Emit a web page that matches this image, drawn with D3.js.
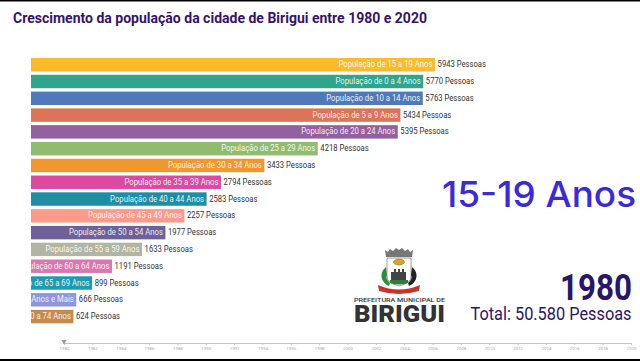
<!DOCTYPE html>
<html><head><meta charset="utf-8">
<script src="https://cdn.jsdelivr.net/npm/d3@7/dist/d3.min.js"></script>
<style>html,body{margin:0;padding:0;background:#fff;overflow:hidden}svg{display:block}text{font-family:Roboto,sans-serif}</style>
</head><body><svg id="c" width="640" height="361"></svg>
<script>
const categories=["15 a 19","0 a 4","10 a 14","5 a 9","20 a 24","25 a 29","30 a 34","35 a 39","40 a 44","45 a 49","50 a 54","55 a 59","60 a 64","65 a 69","75 Anos e Mais","70 a 74"];
const values=[5943,5770,5763,5434,5395,4218,3433,2794,2583,2257,1977,1633,1191,899,666,624];
const colors=["#fdbb2a","#2fa58b","#5079b9","#dd7358","#93619f","#8fbc6e","#f0972f","#dc4aa0","#1f8ea3","#fd9a8a","#6d6198","#b2b5a2","#d977ae","#1f9bb0","#8d96de","#c68a4e"];
const years=d3.range(1980,2021,2);
const svg=d3.select("#c");
const fit=(sel,k)=>sel.each(function(){d3.select(this).attr("textLength",this.getComputedTextLength()*k).attr("lengthAdjust","spacingAndGlyphs")});
const x=d3.scaleLinear().domain([0,5943]).range([31,435]);
const y=d3.scaleBand().domain(categories).range([58,323.3]).paddingInner(0.2).paddingOuter(0);
svg.append("defs").append("clipPath").attr("id","clip").append("rect").attr("x",31).attr("y",50).attr("width",600).attr("height",280);
svg.append("rect").attr("width",640).attr("height",1.5).attr("fill","#000");
svg.append("rect").attr("y",359).attr("width",640).attr("height",2).attr("fill","#000");
svg.append("text").attr("x",13).attr("y",23).attr("font-size",15).attr("font-weight",700).attr("fill","#35146b").text("Crescimento da população da cidade de Birigui entre 1980 e 2020").attr("textLength",414).attr("lengthAdjust","spacingAndGlyphs");
const g=svg.append("g").attr("clip-path","url(#clip)");
g.selectAll("rect").data(values).join("rect").attr("x",x(0)).attr("y",(d,i)=>y(categories[i])).attr("width",d=>x(d)-x(0)).attr("height",y.bandwidth()).attr("fill",(d,i)=>colors[i]);
g.selectAll("text").data(values).join("text").attr("x",d=>x(d)-2.5).attr("y",(d,i)=>y(categories[i])+y.bandwidth()/2+2.6).attr("text-anchor","end").attr("font-size",8.6).attr("fill","#fff").attr("fill-opacity",.9).text((d,i)=>i==14?"População de 75 Anos e Mais":"População de "+categories[i]+" Anos").call(fit,.9);
svg.append("g").selectAll("text").data(values).join("text").attr("x",d=>x(d)+2.6).attr("y",(d,i)=>y(categories[i])+y.bandwidth()/2+2.6).attr("font-size",8.6).attr("fill","#333").text(d=>d+" Pessoas").call(fit,.89);
const t=d3.scaleLinear().domain([1980,2020]).range([64,631]);
const ax=svg.append("g").attr("transform","translate(0,343)").call(d3.axisBottom(t).tickValues(years).tickFormat(d3.format("d")).tickSize(2).tickPadding(2));
ax.selectAll("path,line").attr("stroke","#c4c4c4");
ax.selectAll("text").attr("font-size",4.4).attr("fill","#aaa");
svg.append("path").attr("d",d3.symbol(d3.symbolTriangle,12)()).attr("transform",`translate(${t(1980)},341.5) rotate(180)`).attr("fill","#999");
svg.append("text").attr("x",442).attr("y",206.5).style("font-family","Inter").attr("font-size",36).attr("font-weight",500).attr("fill","#3a2ad8").text("15-19 Anos").attr("textLength",194).attr("lengthAdjust","spacingAndGlyphs");
svg.append("text").attr("x",560).attr("y",299.5).attr("font-size",37).attr("font-weight",700).attr("fill","#2b1566").text("1980").attr("textLength",72).attr("lengthAdjust","spacingAndGlyphs");
svg.append("text").attr("x",470.5).attr("y",320).attr("font-size",18.5).attr("fill","#2b1566").text("Total: 50.580 Pessoas").attr("textLength",161).attr("lengthAdjust","spacingAndGlyphs");
svg.append("text").attr("x",354).attr("y",302).attr("font-size",6.2).attr("font-weight",500).attr("fill","#333").text("PREFEITURA MUNICIPAL DE").attr("textLength",91).attr("lengthAdjust","spacingAndGlyphs");
svg.append("text").attr("x",354).attr("y",322.3).attr("font-size",23.3).attr("font-weight",900).attr("fill","#333").text("BIRIGUI").attr("textLength",91).attr("lengthAdjust","spacingAndGlyphs");
const crest=svg.append("g");
const shape=(d,fill,extra)=>crest.append("path").attr("d",d).attr("fill",fill).attr("stroke",extra||"none").attr("stroke-width",.7);
shape("M386 257l-1-7 3 2 2-3 3 2 3-3 3 2 3-2 3 3 3-2 2 3 3-2-1 7z","#777");
shape("M387 258h24v19q0 6-12 9q-12-3-12-9z","#fff","#777");
crest.append("ellipse").attr("cx",399).attr("cy",262).attr("rx",5.5).attr("ry",3).attr("fill","#d9a520").attr("stroke","#8a6a10").attr("stroke-width",.5);
shape("M391 283v-11h3v-3h2v3h2v-3h2v3h2v-3h2v3h2v11z","#444");
shape("M390 280h18v3q-9 3-18 0z","#2f7d3c");
shape("M386 267q-6 5-4 12 2 5 7 7l1-3q-5-4-3-8z","#2f8a3c");
shape("M412 267q6 5 4 12-2 5-7 7l-1-3q5-4 3-8z","#222");
shape("M378 285q21 9 42 0l-1 6q-20 6-40 0z","#c9332b");
</script></body></html>
